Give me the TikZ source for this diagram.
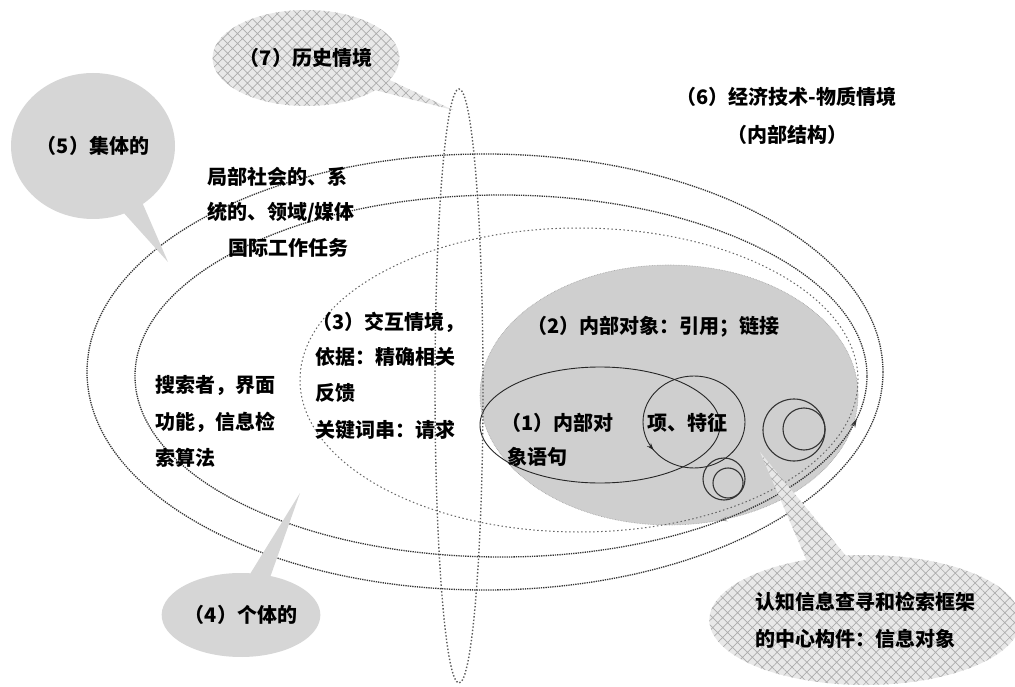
\documentclass[tikz,border=0pt]{standalone}
\usepackage{fontspec}
\setmainfont{Noto Sans CJK SC}
\usetikzlibrary{shapes.callouts,shapes.geometric,patterns.meta,decorations.markings,arrows.meta}
\tikzset{
  cjk/.style={font=\fontsize{20}{37}\selectfont\bfseries},
  txt/.style={cjk, inner sep=0pt, anchor=west, text=black},
  dotline/.style={densely dotted, line width=1.3pt, black!80},
  dashline/.style={dash pattern=on 1.5pt off 2.5pt, line width=1pt, black!60},
  tallline/.style={dotted, line width=1.4pt, black!65},
  solidline/.style={line width=0.9pt, black!85},
  ringline/.style={line width=1.1pt, black!80},
  hatchbubble/.style={ellipse callout, cjk, inner sep=0pt, preaction={fill=gray!18},
     pattern={Hatch[angle=45,distance=7pt,line width=0.7pt]}, pattern color=gray!65},
  dotbubble/.style={ellipse callout, cjk, inner sep=0pt, fill=gray!32}
}
\begin{document}
\begin{tikzpicture}[x=1pt,y=-1pt]
\useasboundingbox (0,0) rectangle (1015,687);
\fill[white] (0,0) rectangle (1015,687);

% (2) shaded internal object region
\fill[gray!38] (669,395) ellipse [x radius=189pt, y radius=130pt];
\draw[densely dotted, gray!75, line width=0.6pt, postaction={decorate},
  decoration={markings, mark=at position 0.80 with {\arrowreversed{Stealth[length=8pt,width=5pt]}}}]
  (669,395) ellipse [x radius=189pt, y radius=130pt];

% (5) collective and (4) individual ellipses
\draw[dotline] (485,372) ellipse [x radius=398pt, y radius=218pt];
\draw[dotline, postaction={decorate},
  decoration={markings, mark=at position 0.975 with {\arrow{Stealth[length=9pt,width=5pt]}}}]
  (501,376) ellipse [x radius=366pt, y radius=181pt];
% (3) interaction ellipse
\draw[dashline] (579,380) ellipse [x radius=279pt, y radius=152pt];

% (1) internal object sentence
\draw[solidline] (600,425) ellipse [x radius=120pt, y radius=58pt];
% term / feature circle
\draw[solidline, postaction={decorate},
  decoration={markings, mark=at position 0.60 with {\arrow{Stealth[length=7pt,width=5pt]}}}]
  (694,422) ellipse [x radius=51pt, y radius=46pt];
% small double circles
\draw[ringline] (724,479) circle [radius=21pt];
\draw[ringline] (728,483) circle [radius=15pt];
\draw[ringline] (794,430) circle [radius=31pt];
\draw[ringline] (804,429) circle [radius=21pt];

% (7) tall historical ellipse
\draw[tallline] (459,386) ellipse [x radius=24pt, y radius=297pt];

% callouts
\node[hatchbubble, minimum width=182pt, minimum height=96pt,
  callout absolute pointer={(453,110)}] (b7) at (306,58) {（7）历史情境};
\node[dotbubble, minimum width=164pt, minimum height=146pt,
  callout absolute pointer={(168,262)}] (b5) at (93,146) {（5）集体的};
\node[dotbubble, minimum width=158pt, minimum height=84pt,
  callout absolute pointer={(300,493)}] (b4) at (241,615) {（4）个体的};
\node[hatchbubble, minimum width=305pt, minimum height=130pt, align=left,
  callout absolute pointer={(760,452)}] (bc) at (865,620)
  {认知信息查寻和检索框架\\的中心构件：信息对象};

% texts
\node[txt] (t6a) at (676,97) {（6）经济技术-物质情境};
\node[txt] (t6b) at (727,135) {（内部结构）};
\node[txt] (tsa) at (207,177) {局部社会的、系};
\node[txt] (tsb) at (207,213) {统的、领域/媒体};
\node[txt] (tsc) at (228,248) {国际工作任务};
\node[txt] (t3a) at (312,322) {（3）交互情境，};
\node[txt] (t3b) at (315,357) {依据：精确相关};
\node[txt] (t3c) at (315,393) {反馈};
\node[txt] (t3d) at (315,430) {关键词串：请求};
\node[txt] (t4a) at (155,385) {搜索者，界面};
\node[txt] (t4b) at (155,422) {功能，信息检};
\node[txt] (t4c) at (155,458) {索算法};
\node[txt] (t2) at (527,327) {（2）内部对象：引用；链接};
\node[txt] (t1a) at (501,423) {（1）内部对};
\node[txt] (t1b) at (507,457) {象语句};
\node[txt] (tf) at (647,423) {项、特征};
\end{tikzpicture}
\end{document}
